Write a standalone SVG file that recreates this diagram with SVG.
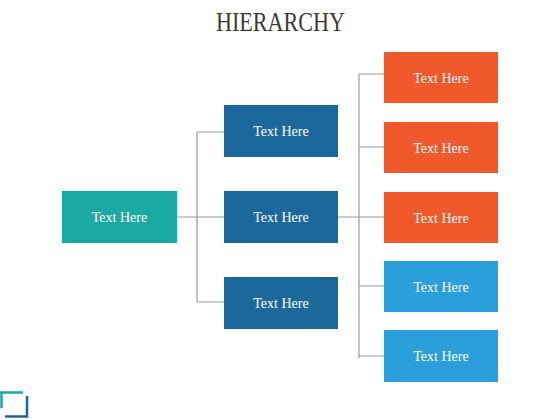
<svg xmlns="http://www.w3.org/2000/svg" width="560" height="420" viewBox="0 0 560 420">
<style>
.lbl{font-family:"Liberation Serif","Times New Roman",serif;font-size:14px;fill:#fff;text-anchor:middle}
.ttl{font-family:"Liberation Serif","Times New Roman",serif;font-size:27px;fill:#3a3a3a;text-anchor:middle}
.ln{stroke:#9a9a9a;stroke-width:1.2;fill:none}
.teal{fill:#1ba9a4}.dark{fill:#1a689c}.org{fill:#f05a2b}.lb{fill:#2a9fdb}
</style>
<rect width="560" height="420" fill="#fff"/>
<text class="ttl" x="280.5" y="31" textLength="129" lengthAdjust="spacingAndGlyphs">HIERARCHY</text>
<g id="connectors">
<path class="ln" d="M177 217H224M197 132V302M197 132H224M197 302H224"/>
<path class="ln" d="M338 217H384M359 74V358M359 74H384M359 147H384M359 286H384M359 356H384"/>
</g>
<g id="root"><rect class="teal" x="62" y="191" width="115" height="52"/><text class="lbl" x="119.5" y="222">Text Here</text></g>
<g id="mid1"><rect class="dark" x="224" y="105" width="114" height="52"/><text class="lbl" x="281" y="136">Text Here</text></g>
<g id="mid2"><rect class="dark" x="224" y="191" width="114" height="52"/><text class="lbl" x="281" y="222">Text Here</text></g>
<g id="mid3"><rect class="dark" x="224" y="277" width="114" height="52"/><text class="lbl" x="281" y="308">Text Here</text></g>
<g id="r1"><rect class="org" x="384" y="52" width="114" height="51"/><text class="lbl" x="441" y="82.5">Text Here</text></g>
<g id="r2"><rect class="org" x="384" y="122" width="114" height="51"/><text class="lbl" x="441" y="152.5">Text Here</text></g>
<g id="r3"><rect class="org" x="384" y="192" width="114" height="51"/><text class="lbl" x="441" y="222.5">Text Here</text></g>
<g id="r4"><rect class="lb" x="384" y="261" width="114" height="51"/><text class="lbl" x="441" y="291.5">Text Here</text></g>
<g id="r5"><rect class="lb" x="384" y="330" width="114" height="52"/><text class="lbl" x="441" y="361">Text Here</text></g>
<g id="icon">
<path d="M0 392.5H23M1.5 392.5V408" stroke="#1ba9a4" stroke-width="2.5" fill="none"/>
<path d="M27 396V416.5H5" stroke="#1a689c" stroke-width="2.5" fill="none"/>
</g>
</svg>
